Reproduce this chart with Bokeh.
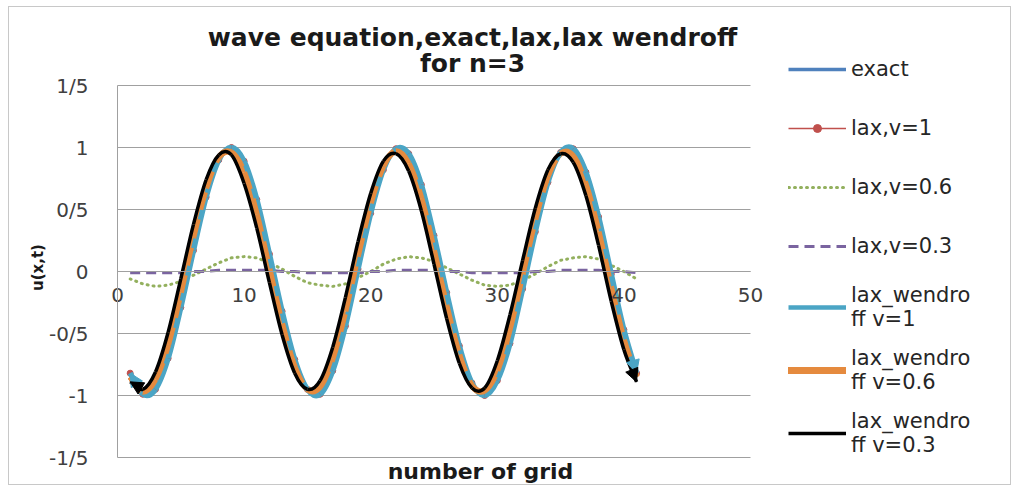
import math
from bokeh.plotting import figure
from bokeh.models import (ColumnDataSource, Range1d, FixedTicker, Legend, LegendItem,
                          Label, Arrow, NormalHead)
from bokeh.embed import file_html
from bokeh.resources import INLINE

# ---------------- data ----------------
grid = list(range(1, 42))

exact = [-0.82, -0.99, -0.95, -0.70, -0.29, 0.17, 0.60, 0.90, 1.00, 0.89,
         0.58, 0.14, -0.32, -0.71, -0.95, -0.99, -0.80, -0.44, 0.02, 0.47,
         0.82, 0.99, 0.95, 0.70, 0.29, -0.17, -0.60, -0.90, -1.00, -0.88,
         -0.58, -0.14, 0.32, 0.72, 0.96, 0.99, 0.80, 0.44, -0.02, -0.47, -0.82]

lax_v1 = [-0.82, -0.99, -0.95, -0.70, -0.29, 0.17, 0.60, 0.90, 1.00, 0.89,
          0.58, 0.14, -0.32, -0.71, -0.95, -0.99, -0.80, -0.44, 0.02, 0.47,
          0.82, 0.99, 0.95, 0.70, 0.29, -0.17, -0.60, -0.90, -1.00, -0.88,
          -0.58, -0.14, 0.32, 0.72, 0.96, 0.99, 0.80, 0.44, -0.02, -0.47, -0.82]

lax_v06 = [-0.06, -0.10, -0.12, -0.11, -0.08, -0.03, 0.02, 0.07, 0.11, 0.12,
           0.11, 0.07, 0.02, -0.04, -0.09, -0.11, -0.12, -0.10, -0.05, 0.00,
           0.06, 0.10, 0.12, 0.11, 0.08, 0.03, -0.02, -0.07, -0.11, -0.12,
           -0.11, -0.07, -0.02, 0.04, 0.09, 0.11, 0.12, 0.10, 0.05, 0.00, -0.06]

lax_v03 = [-0.01, -0.01, -0.01, -0.01, -0.01, 0.00, 0.00, 0.01, 0.01, 0.01,
           0.01, 0.01, 0.00, 0.00, -0.01, -0.01, -0.01, -0.01, -0.01, 0.00,
           0.00, 0.01, 0.01, 0.01, 0.01, 0.00, 0.00, -0.01, -0.01, -0.01,
           -0.01, -0.01, 0.00, 0.00, 0.01, 0.01, 0.01, 0.01, 0.00, 0.00, -0.01]

lw_v1 = [-0.82, -0.99, -0.95, -0.70, -0.29, 0.17, 0.60, 0.90, 1.00, 0.89,
         0.58, 0.14, -0.32, -0.71, -0.95, -0.99, -0.80, -0.44, 0.02, 0.47,
         0.82, 0.99, 0.95, 0.70, 0.29, -0.17, -0.60, -0.90, -1.00, -0.88,
         -0.58, -0.14, 0.32, 0.72, 0.96, 0.99, 0.80, 0.44, -0.02, -0.47, -0.82]

lw_v06 = [-0.85, -0.97, -0.87, -0.59, -0.17, 0.28, 0.67, 0.92, 0.96, 0.80,
          0.46, 0.02, -0.42, -0.77, -0.95, -0.93, -0.70, -0.32, 0.13, 0.55,
          0.85, 0.97, 0.87, 0.59, 0.17, -0.28, -0.67, -0.92, -0.96, -0.80,
          -0.46, -0.02, 0.42, 0.77, 0.95, 0.93, 0.70, 0.32, -0.13, -0.55, -0.85]

lw_v03 = [-0.89, -0.95, -0.81, -0.49, -0.06, 0.38, 0.74, 0.94, 0.94, 0.71,
          0.35, -0.09, -0.51, -0.82, -0.95, -0.88, -0.61, -0.21, 0.24, 0.63,
          0.89, 0.95, 0.81, 0.49, 0.06, -0.38, -0.74, -0.94, -0.94, -0.72,
          -0.35, 0.09, 0.51, 0.82, 0.95, 0.88, 0.61, 0.21, -0.24, -0.63, -0.89]

x_ticks = [0, 10, 20, 30, 40, 50]
y_ticks = [-1.5, -1.0, -0.5, 0.0, 0.5, 1.0, 1.5]
y_tick_labels = ["-1/5", "-1", "-0/5", "0", "0/5", "1", "1/5"]

title_lines = ["wave equation,exact,lax,lax wendroff", "for n=3"]
x_title = "number of grid"
y_title = "u(x,t)"
series_names = ["exact", "lax,v=1", "lax,v=0.6", "lax,v=0.3",
                "lax_wendro\nff v=1", "lax_wendro\nff v=0.6", "lax_wendro\nff v=0.3"]

# ---------------- layout / styles ----------------
FONT = "DejaVu Sans"
C_EXACT = "#4F81BD"
C_LAX1 = "#C0504D"
C_LAX06 = "#93B05E"
C_LAX03 = "#7A64A0"
C_LW1 = "#4BA5C5"
C_LW06 = "#E58A3E"
C_LW03 = "#000000"
GRID_C = "#a0a0a0"

W, H = 1003, 479                 # canvas size
PX_L, PX_R = 108, 741            # canvas px of x = 0 and x = 50
PX_T, PX_B = 78, 450             # canvas px of y = 1.5 and y = -1.5
x0, x1 = x_ticks[0], x_ticks[-1]
y0, y1 = y_ticks[0], y_ticks[-1]
sx = (PX_R - PX_L) / (x1 - x0)
sy = (PX_B - PX_T) / (y1 - y0)
xr = Range1d(x0 - PX_L / sx, x1 + (W - PX_R) / sx)
yr = Range1d(y0 - (H - PX_B) / sy, y1 + PX_T / sy)


def smooth(xs, ys):
    """Bezier pieces through the data points (Excel-like smoothed line)."""
    n = len(xs)
    d = dict(x0=[], y0=[], x1=[], y1=[], cx0=[], cy0=[], cx1=[], cy1=[])
    for i in range(n - 1):
        im, ip = max(i - 1, 0), min(i + 2, n - 1)
        d["x0"].append(xs[i]); d["y0"].append(ys[i])
        d["x1"].append(xs[i + 1]); d["y1"].append(ys[i + 1])
        d["cx0"].append(xs[i] + (xs[i + 1] - xs[im]) / 6)
        d["cy0"].append(ys[i] + (ys[i + 1] - ys[im]) / 6)
        d["cx1"].append(xs[i + 1] - (xs[ip] - xs[i]) / 6)
        d["cy1"].append(ys[i + 1] - (ys[ip] - ys[i]) / 6)
    return ColumnDataSource(d)


BZ = dict(x0="x0", y0="y0", x1="x1", y1="y1", cx0="cx0", cy0="cy0", cx1="cx1", cy1="cy1")

src = ColumnDataSource(dict(x=grid, exact=exact, lax_v1=lax_v1, lax_v06=lax_v06,
                            lax_v03=lax_v03, lw_v1=lw_v1, lw_v06=lw_v06, lw_v03=lw_v03))

p = figure(width=W, height=H, x_range=xr, y_range=yr,
           output_backend="svg", toolbar_location=None,
           min_border_left=0, min_border_right=0, min_border_top=0, min_border_bottom=0)
p.outline_line_color = None
p.background_fill_color = "white"
p.border_fill_color = "white"
p.styles = {"margin-left": "8px", "margin-top": "6px", "border": "1px solid #c8c8c8"}
p.xgrid.visible = False
p.ygrid.visible = False

# horizontal grid lines between x = 0 and x = 50
p.segment(x0=[x0] * len(y_ticks), x1=[x1] * len(y_ticks), y0=y_ticks, y1=y_ticks,
          line_color=GRID_C, line_width=1)

# x axis crossing at y = 0
xa = p.xaxis[0]
xa.fixed_location = 0
xa.bounds = (x0, x1)
xa.ticker = FixedTicker(ticks=x_ticks)
xa.axis_line_color = GRID_C
xa.major_tick_line_color = None
xa.minor_tick_line_color = None
xa.major_label_standoff = 10
xa.major_label_text_font = FONT
xa.major_label_text_font_size = "20px"
xa.major_label_text_color = "#404040"

# y axis at x = 0
ya = p.yaxis[0]
ya.fixed_location = 0
ya.bounds = (y0, y1)
ya.ticker = FixedTicker(ticks=y_ticks)
ya.major_label_overrides = {t: s for t, s in zip(y_ticks, y_tick_labels)}
ya.axis_line_color = GRID_C
ya.major_tick_line_color = None
ya.minor_tick_line_color = None
ya.major_label_standoff = 23
ya.major_label_text_font = FONT
ya.major_label_text_font_size = "20px"
ya.major_label_text_color = "#404040"

# ---------------- series ----------------
# hidden plain lines: used only for the legend swatches
leg_exact = p.line("x", "exact", source=src, line_color=C_EXACT, line_width=3.5, visible=False)
leg_lax1 = p.line("x", "lax_v1", source=src, line_color=C_LAX1, line_width=1.5, visible=False)
leg_lax1m = p.scatter("x", "lax_v1", source=src, fill_color=C_LAX1, line_color=C_LAX1,
                      visible=False)
leg_lw1 = p.line("x", "lw_v1", source=src, line_color=C_LW1, line_width=4.5, visible=False)
leg_lw06 = p.line("x", "lw_v06", source=src, line_color=C_LW06, line_width=7,
                  line_cap="round", visible=False)
leg_lw03 = p.line("x", "lw_v03", source=src, line_color=C_LW03, line_width=3.5, visible=False)

# drawn series (smoothed like the original)
p.bezier(source=smooth(grid, exact), line_color=C_EXACT, line_width=3, **BZ)
p.bezier(source=smooth(grid, lax_v1), line_color=C_LAX1, line_width=1.5, **BZ)
p.scatter("x", "lax_v1", source=src, size=6, fill_color=C_LAX1, line_color=C_LAX1)
r_lax06 = p.line("x", "lax_v06", source=src, line_color=C_LAX06, line_width=3,
                 line_dash="1 5", line_cap="round")
r_lax03 = p.line("x", "lax_v03", source=src, line_color=C_LAX03, line_width=3,
                 line_dash="10 6")
p.bezier(source=smooth(grid, lw_v06), line_color=C_LW06, line_width=6, **BZ)
p.bezier(source=smooth(grid, lw_v1), line_color=C_LW1, line_width=5.5, **BZ)
p.bezier(source=smooth(grid, lw_v06), line_color=C_LW06, line_width=6,
         line_dash="18 10", **BZ)
p.bezier(source=smooth(grid, lw_v03), line_color=C_LW03, line_width=3.5, **BZ)

# arrow heads at both ends of the lax-wendroff v=1 and v=0.3 lines
for ys, col, w in ((lw_v1, C_LW1, 5.5), (lw_v03, C_LW03, 3.5)):
    for a, b in ((1, 0), (-2, -1)):
        p.add_layout(Arrow(end=NormalHead(size=13, fill_color=col, line_color=col),
                           x_start=grid[a], y_start=ys[a], x_end=grid[b], y_end=ys[b],
                           line_color=col, line_width=w, line_alpha=0))

# ---------------- legend ----------------
leg_renderers = [[leg_exact], [leg_lax1, leg_lax1m], [r_lax06], [r_lax03],
                 [leg_lw1], [leg_lw06], [leg_lw03]]
items = [LegendItem(label=n, renderers=rs) for n, rs in zip(series_names, leg_renderers)]
legend = Legend(items=items, location=(779, 29), orientation="vertical",
                padding=0, margin=0, spacing=15, glyph_width=58, glyph_height=20,
                label_height=44, label_standoff=5,
                label_text_font=FONT, label_text_font_size="21px",
                label_text_color="#262626", inactive_fill_alpha=0,
                border_line_color=None, background_fill_alpha=0)
p.add_layout(legend)

# ---------------- titles (screen px, origin bottom-left of canvas) ----------------
for txt, yy in zip(title_lines, (H - 30, H - 56)):
    p.add_layout(Label(x=463, y=yy, x_units="screen", y_units="screen", text=txt,
                       text_align="center", text_baseline="middle",
                       text_font=FONT, text_font_size="25px", text_font_style="bold",
                       text_color="#1a1a1a"))
p.add_layout(Label(x=471, y=H - 464, x_units="screen", y_units="screen", text=x_title,
                   text_align="center", text_baseline="middle",
                   text_font=FONT, text_font_size="22px", text_font_style="bold",
                   text_color="#1a1a1a"))
p.add_layout(Label(x=28, y=H - 260, x_units="screen", y_units="screen", text=y_title,
                   angle=math.pi / 2, text_align="center", text_baseline="middle",
                   text_font=FONT, text_font_size="15px", text_font_style="bold",
                   text_color="#1a1a1a"))

open("out.html", "w").write(file_html(p, INLINE))
